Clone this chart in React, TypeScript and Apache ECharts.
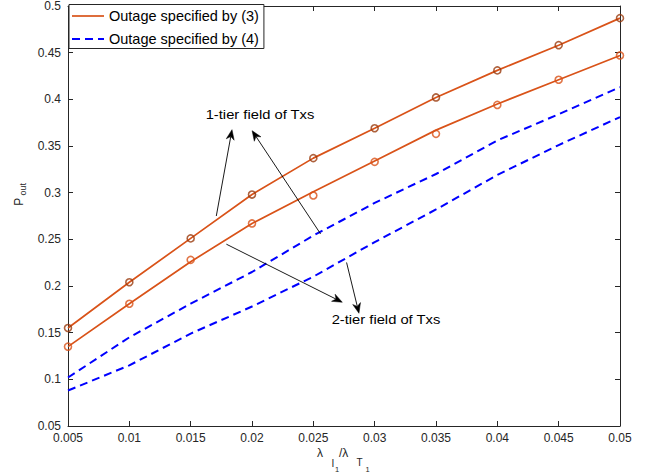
import React, { useEffect, useRef } from 'react';
import * as echarts from 'echarts';

// ---------- data ----------
const xValues = [0.005, 0.01, 0.015, 0.02, 0.025, 0.03, 0.035, 0.04, 0.045, 0.05];
const xTickStep = 0.005;
const yMin = 0.05;
const yMax = 0.5;
const yTickStep = 0.05;

// Outage specified by (3): analytical curves (solid)
const tier1Eq3Line = [0.155, 0.204, 0.251, 0.298, 0.337, 0.369, 0.402, 0.431, 0.458, 0.487];
const tier2Eq3Line = [0.135, 0.181, 0.226, 0.267, 0.301, 0.334, 0.367, 0.395, 0.421, 0.447];
// simulation markers
const tier1Eq3Sim = [0.155, 0.204, 0.251, 0.298, 0.337, 0.369, 0.402, 0.431, 0.458, 0.487];
const tier2Eq3Sim = [0.135, 0.181, 0.228, 0.267, 0.297, 0.333, 0.363, 0.394, 0.421, 0.447];
// Outage specified by (4): dashed curves
const tier1Eq4Line = [0.102, 0.145, 0.181, 0.215, 0.254, 0.289, 0.320, 0.356, 0.384, 0.413];
const tier2Eq4Line = [0.088, 0.115, 0.149, 0.178, 0.210, 0.247, 0.282, 0.319, 0.351, 0.381];

const legendEq3 = 'Outage specified by (3)';
const legendEq4 = 'Outage specified by (4)';

// annotations (data coordinates)
const annoTier1Text = '1-tier field of Txs';
const annoTier1Pos = [0.02065, 0.3838];
const annoTier2Text = '2-tier field of Txs';
const annoTier2Pos = [0.03092, 0.1638];
const arrowTails = [
  [0.01709, 0.275],
  [0.02559, 0.2558],
  [0.01791, 0.2448],
  [0.02771, 0.2252],
];
const arrowTips = [
  [0.01837, 0.3675],
  [0.02001, 0.3664],
  [0.02736, 0.1826],
  [0.02872, 0.1708],
];

const FONT = '"Liberation Sans", Arial, Helvetica, sans-serif';
const AX = '#262626';
const ORANGE = '#D95319';
const BROWN = '#9A3B0E';
const BLUE = '#0000FF';
const DASH = [8, 5];

const pts = (ys: number[]) => xValues.map((x, i) => [x, ys[i]]);

export default function App() {
  const ref = useRef<HTMLDivElement>(null);

  useEffect(() => {
    if (!ref.current) return;
    const chart = echarts.init(ref.current, null, { renderer: 'svg' });

    const axisCommon = {
      type: 'value' as const,
      axisLine: { show: true, onZero: false, lineStyle: { color: AX, width: 1 } },
      axisTick: { show: true, inside: true, length: 5, lineStyle: { color: AX, width: 1 } },
      splitLine: { show: false },
    };
    const fmt = (v: number) => String(parseFloat(v.toFixed(3)));

    const option: any = {
      animation: false,
      backgroundColor: '#fff',
      grid: { left: 68, right: 37, top: 4, bottom: 48, containLabel: false },
      legend: {
        left: 69,
        top: 4.5,
        orient: 'vertical',
        data: [
          {
            name: legendEq3,
            itemStyle: { color: 'rgba(0,0,0,0)', borderWidth: 0, opacity: 0 },
            lineStyle: { color: ORANGE, width: 1.7, type: 'solid' },
          },
          {
            name: legendEq4,
            itemStyle: { color: 'rgba(0,0,0,0)', borderWidth: 0, opacity: 0 },
            lineStyle: { color: BLUE, width: 2, type: DASH },
          },
        ],
        itemWidth: 32,
        itemHeight: 14,
        itemGap: 8,
        padding: [4, 5, 2, 2],
        backgroundColor: '#fff',
        borderColor: AX,
        borderWidth: 1,
        borderRadius: 0,
        textStyle: { fontFamily: FONT, fontSize: 14.5, color: '#000' },
        selectedMode: false,
        z: 10,
      },
      xAxis: [
        {
          ...axisCommon,
          position: 'bottom',
          min: xValues[0],
          max: xValues[xValues.length - 1],
          interval: xTickStep,
          axisLabel: { fontFamily: FONT, fontSize: 12, color: AX, margin: 6, formatter: fmt },
        },
        {
          ...axisCommon,
          position: 'top',
          min: xValues[0],
          max: xValues[xValues.length - 1],
          interval: xTickStep,
          axisLabel: { show: false },
        },
      ],
      yAxis: [
        {
          ...axisCommon,
          position: 'left',
          min: yMin,
          max: yMax,
          interval: yTickStep,
          axisLabel: { fontFamily: FONT, fontSize: 12, color: AX, margin: 7, formatter: fmt },
        },
        {
          ...axisCommon,
          position: 'right',
          min: yMin,
          max: yMax,
          interval: yTickStep,
          axisLabel: { show: false },
        },
      ],
      series: [
        {
          name: legendEq4,
          type: 'line',
          data: pts(tier1Eq4Line),
          symbol: 'none',
          lineStyle: { color: BLUE, width: 2, type: DASH },
          itemStyle: { color: BLUE },
          z: 2,
        },
        {
          name: legendEq4,
          type: 'line',
          data: pts(tier2Eq4Line),
          symbol: 'none',
          lineStyle: { color: BLUE, width: 2, type: DASH },
          itemStyle: { color: BLUE },
          z: 2,
        },
        {
          name: legendEq3,
          type: 'line',
          data: pts(tier1Eq3Line),
          symbol: 'none',
          lineStyle: { color: ORANGE, width: 1.7 },
          itemStyle: { color: ORANGE },
          z: 3,
        },
        {
          name: legendEq3,
          type: 'line',
          data: pts(tier2Eq3Line),
          symbol: 'none',
          lineStyle: { color: ORANGE, width: 1.7 },
          itemStyle: { color: ORANGE },
          z: 3,
        },
        {
          name: 'Simulation 1-tier',
          type: 'scatter',
          data: pts(tier1Eq3Sim),
          symbol: 'circle',
          symbolSize: 7,
          clip: false,
          itemStyle: { color: 'rgba(0,0,0,0)', borderColor: BROWN, borderWidth: 1.6 },
          z: 4,
        },
        {
          name: 'Simulation 2-tier',
          type: 'scatter',
          data: pts(tier2Eq3Sim),
          symbol: 'circle',
          symbolSize: 7,
          clip: false,
          itemStyle: { color: 'rgba(0,0,0,0)', borderColor: ORANGE, borderWidth: 1.6 },
          z: 4,
        },
      ],
    };

    chart.setOption(option);

    const toPx = (p: number[]) => chart.convertToPixel({ gridIndex: 0 }, p) as number[];

    const graphics: any[] = [];
    arrowTails.forEach((tail, i) => {
      const a = toPx(tail);
      const b = toPx(arrowTips[i]);
      const dx = b[0] - a[0];
      const dy = b[1] - a[1];
      const len = Math.sqrt(dx * dx + dy * dy);
      const ux = dx / len;
      const uy = dy / len;
      const nx = -uy;
      const ny = ux;
      const hl = 10;
      const hw = 4;
      const notch = 7;
      const back = [b[0] - ux * hl, b[1] - uy * hl];
      const mid = [b[0] - ux * notch, b[1] - uy * notch];
      graphics.push({
        type: 'line',
        shape: { x1: a[0], y1: a[1], x2: mid[0], y2: mid[1] },
        style: { stroke: '#000', lineWidth: 0.9 },
        z: 20,
      });
      graphics.push({
        type: 'polygon',
        shape: {
          points: [
            [b[0], b[1]],
            [back[0] + nx * hw, back[1] + ny * hw],
            [mid[0], mid[1]],
            [back[0] - nx * hw, back[1] - ny * hw],
          ],
        },
        style: { fill: '#000', stroke: '#000', lineWidth: 0.5 },
        z: 20,
      });
    });

    const t1 = toPx(annoTier1Pos);
    const t2 = toPx(annoTier2Pos);
    const annoStyle = (text: string) => ({
      text,
      fontFamily: FONT,
      fontSize: 12.5,
      fill: '#000',
      align: 'center',
      verticalAlign: 'middle',
    });
    graphics.push({ type: 'text', x: t1[0], y: t1[1], scaleX: 1.18, style: annoStyle(annoTier1Text), z: 20 });
    graphics.push({ type: 'text', x: t2[0], y: t2[1], scaleX: 1.18, style: annoStyle(annoTier2Text), z: 20 });

    // axis titles: λ_{I_1}/λ_{T_1} and P_out
    const piece = (text: string, x: number, y: number, size: number, extra: any = {}) => ({
      type: 'text',
      x,
      y,
      ...extra,
      style: { text, fontFamily: FONT, fontSize: size, fill: AX, align: extra.align || 'left', verticalAlign: 'middle' },
      z: 20,
    });
    graphics.push(piece('λ', 317, 452.5, 12));
    graphics.push(piece('I', 331.5, 463, 10));
    graphics.push(piece('1', 335, 469, 7.5));
    graphics.push(piece('/λ', 339, 452.5, 12));
    graphics.push(piece('T', 356.5, 462.5, 10));
    graphics.push(piece('1', 365.5, 469, 7.5));
    graphics.push(piece('P', 18.8, 201.7, 12, { rotation: Math.PI / 2, align: 'center' }));
    graphics.push(piece('out', 23, 189.2, 9, { rotation: Math.PI / 2, align: 'center' }));

    chart.setOption({ graphic: graphics });

    return () => {
      chart.dispose();
    };
  }, []);

  return (
    <div
      ref={ref}
      style={{ position: 'fixed', left: 0, top: 0, width: 657, height: 474, background: '#fff' }}
    />
  );
}
